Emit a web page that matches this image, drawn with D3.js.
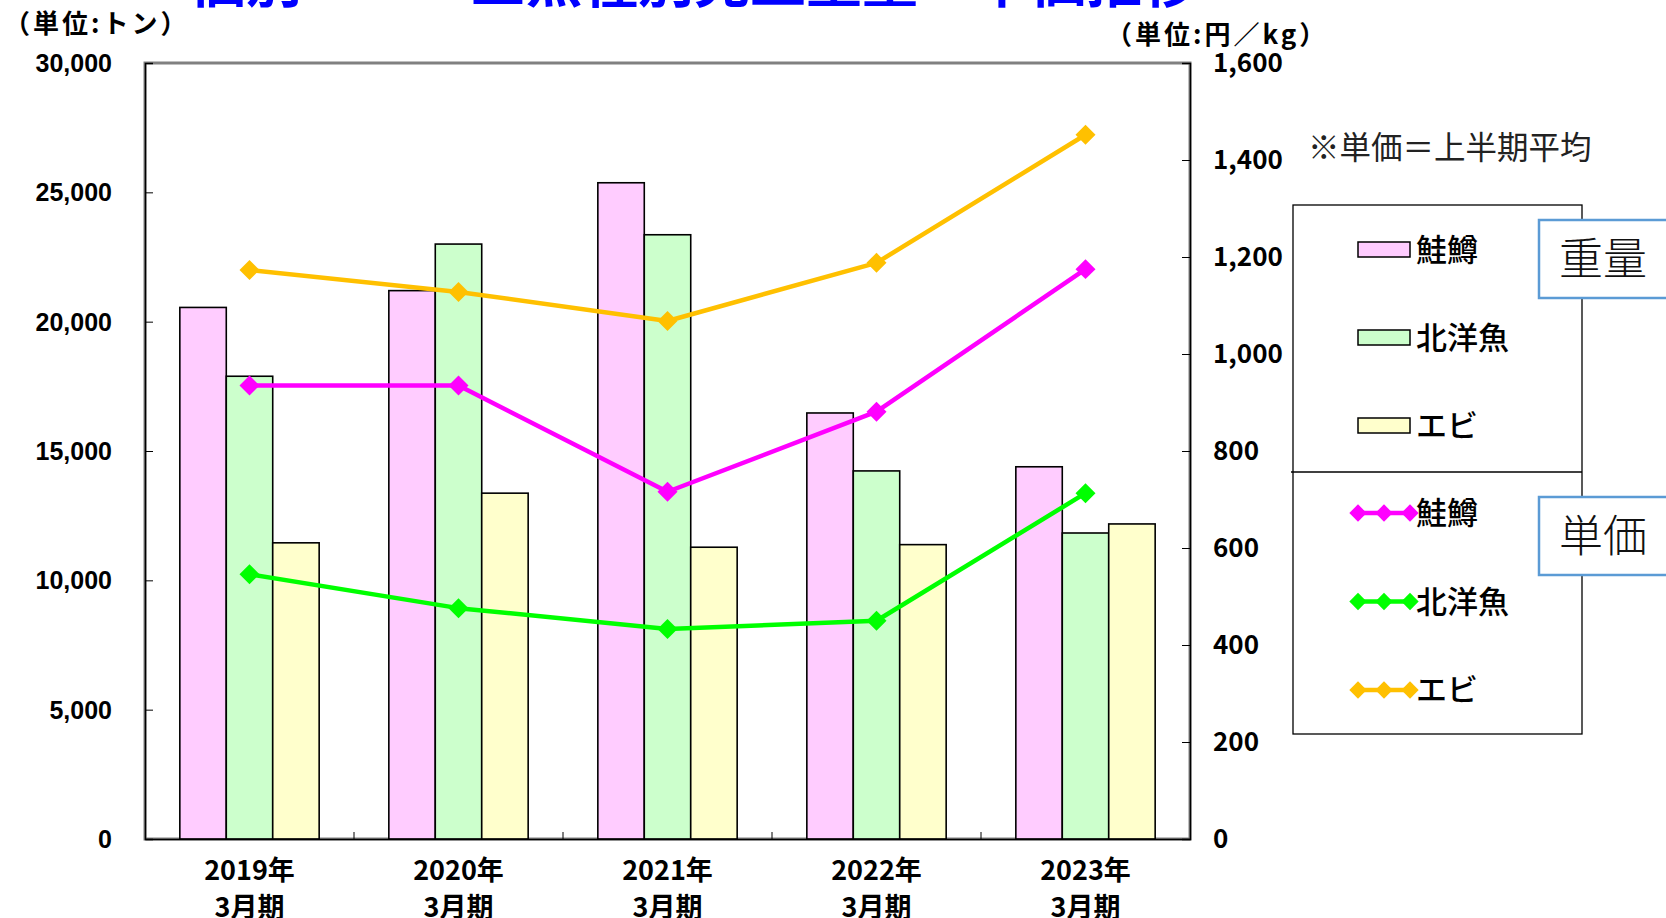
<!DOCTYPE html>
<html>
<head>
<meta charset="utf-8">
<script src="https://cdn.jsdelivr.net/npm/d3@7"></script>
<style>
  body { margin: 0; background: #fff; }
  svg { display: block; }
</style>
</head>
<body>
<svg width="1666" height="918"></svg>
<script>
// data
const years = ["2019年", "2020年", "2021年", "2022年", "2023年"]
const periodLabel = "3月期"
const species = ["鮭鱒", "北洋魚", "エビ"]
const weightSalmon = [20550, 21200, 25370, 16470, 14390]
const weightNorth = [17890, 23000, 23360, 14230, 11830]
const weightShrimp = [11450, 13370, 11280, 11380, 12180]
const priceSalmon = [935, 935, 716, 881, 1175]
const priceNorth = [546, 476, 433, 450, 713]
const priceShrimp = [1173, 1128, 1068, 1188, 1452]
const leftTicks = [0, 5000, 10000, 15000, 20000, 25000, 30000]
const rightTicks = [0, 200, 400, 600, 800, 1000, 1200, 1400, 1600]

const barColors = ["#FFCCFF", "#CCFFCC", "#FFFFCC"]
const lineColors = ["#FF00FF", "#00FF00", "#FFC000"]

let plot = {left: 145, right: 1190, top: 63, bottom: 839}

const svg = d3.select("svg")
const jp = "'Noto Sans CJK JP', 'Noto Sans', sans-serif"

// clipped title at the very top
svg.append("text")
  .attr("x", 190).attr("y", 2)
  .attr("font-family", jp).attr("font-weight", 700)
  .attr("font-size", 56).attr("fill", "#0000FF")
  .text("個別　　　三魚種別売上重量・単価推移")

const x = d3.scaleBand()
  .domain(years)
  .range([plot.left, plot.right])
  .paddingInner(0).paddingOuter(0)

const xInner = d3.scaleBand()
  .domain(species)
  .range([0, x.bandwidth()])
  .paddingOuter(0.75).paddingInner(0)

const yLeft = d3.scaleLinear().domain([0, 30000]).range([plot.bottom, plot.top])
const yRight = d3.scaleLinear().domain([0, 1600]).range([plot.bottom, plot.top])

// plot frame (Excel style grey border)
svg.append("rect")
  .attr("x", plot.left).attr("y", plot.top)
  .attr("width", plot.right - plot.left).attr("height", plot.bottom - plot.top)
  .attr("fill", "none").attr("stroke", "#808080").attr("stroke-width", 3)

// bars
const weights = [weightSalmon, weightNorth, weightShrimp]
const barRows = []
for (let i = 0; i < years.length; i++) {
  for (let j = 0; j < species.length; j++) {
    barRows.push({year: years[i], sp: species[j], value: weights[j][i], k: j})
  }
}
svg.append("g").selectAll("rect")
  .data(barRows)
  .enter().append("rect")
  .attr("x", d => x(d.year) + xInner(d.sp))
  .attr("y", d => yLeft(d.value))
  .attr("width", xInner.bandwidth())
  .attr("height", d => plot.bottom - yLeft(d.value))
  .attr("fill", d => barColors[d.k])
  .attr("stroke", "#000").attr("stroke-width", 1.6)

// axes
const leftAxis = svg.append("g")
  .attr("transform", `translate(${plot.left},0)`)
  .call(d3.axisRight(yLeft).tickValues(leftTicks).tickSize(8).tickFormat(""))
leftAxis.select(".domain").attr("stroke-width", 1.5)

const rightAxis = svg.append("g")
  .attr("transform", `translate(${plot.right},0)`)
  .call(d3.axisLeft(yRight).tickValues(rightTicks).tickSize(8).tickFormat(""))
rightAxis.select(".domain").attr("stroke-width", 1.5)

const bottomAxis = svg.append("g")
  .attr("transform", `translate(0,${plot.bottom})`)
  .call(d3.axisTop(x).tickSize(0).tickFormat(""))
bottomAxis.select(".domain").attr("stroke-width", 1.5)
bottomAxis.selectAll(".bnd")
  .data(years.slice(1))
  .enter().append("line")
  .attr("x1", d => x(d)).attr("x2", d => x(d))
  .attr("y1", 0).attr("y2", -7)
  .attr("stroke", "#000")

// tick labels
svg.append("g").selectAll("text")
  .data(leftTicks)
  .enter().append("text")
  .attr("x", 112).attr("y", d => yLeft(d))
  .attr("dy", "0.36em").attr("text-anchor", "end")
  .attr("font-family", "'Liberation Sans', Arial, sans-serif")
  .attr("font-weight", 700).attr("font-size", 25)
  .text(d => d3.format(",")(d))

svg.append("g").selectAll("text")
  .data(rightTicks)
  .enter().append("text")
  .attr("x", 1213).attr("y", d => yRight(d))
  .attr("dy", "0.36em")
  .attr("font-family", jp)
  .attr("font-weight", 700).attr("font-size", 26)
  .text(d => d3.format(",")(d))

const xl = svg.append("g").selectAll("text")
  .data(years)
  .enter().append("text")
  .attr("x", d => x(d) + x.bandwidth() / 2)
  .attr("text-anchor", "middle")
  .attr("font-family", jp)
  .attr("font-weight", 700).attr("font-size", 27)
xl.append("tspan").attr("x", d => x(d) + x.bandwidth() / 2).attr("y", 880).text(d => d)
xl.append("tspan").attr("x", d => x(d) + x.bandwidth() / 2).attr("y", 917).text(periodLabel)

// unit labels
svg.append("text")
  .attr("x", 4).attr("y", 33)
  .attr("font-family", jp).attr("font-weight", 700).attr("font-size", 26)
  .attr("letter-spacing", 3)
  .text("（単位:トン）")
svg.append("text")
  .attr("x", 1106).attr("y", 44)
  .attr("font-family", jp).attr("font-weight", 700).attr("font-size", 26)
  .attr("letter-spacing", 3)
  .text("（単位:円／kg）")

// lines
const prices = [priceSalmon, priceNorth, priceShrimp]
const cx = d => x(d) + x.bandwidth() / 2
const line = d3.line()
  .x((d, i) => cx(years[i]))
  .y(d => yRight(d))

prices.forEach(function(series, k) {
  svg.append("path")
    .datum(series)
    .attr("d", line)
    .attr("fill", "none")
    .attr("stroke", lineColors[k])
    .attr("stroke-width", 4.5)
    .attr("stroke-linejoin", "round")
  svg.append("g").selectAll("path")
    .data(series)
    .enter().append("path")
    .attr("d", d3.symbol(d3.symbolSquare, 200))
    .attr("transform", (d, i) => `translate(${cx(years[i])},${yRight(d)}) rotate(45)`)
    .attr("fill", lineColors[k])
})

// note
svg.append("text")
  .attr("x", 1308).attr("y", 159)
  .attr("font-family", jp).attr("font-weight", 400).attr("font-size", 31.5)
  .attr("fill", "#222")
  .text("※単価＝上半期平均")

// legend
const lg = svg.append("g")
lg.append("rect")
  .attr("x", 1293).attr("y", 205).attr("width", 289).attr("height", 529)
  .attr("fill", "#fff").attr("stroke", "#000").attr("stroke-width", 1.3)
lg.append("line")
  .attr("x1", 1291).attr("x2", 1582).attr("y1", 472).attr("y2", 472)
  .attr("stroke", "#000").attr("stroke-width", 1.3)

species.forEach(function(s, k) {
  const yy = 250 + k * 88
  lg.append("rect")
    .attr("x", 1358).attr("y", yy - 8).attr("width", 52).attr("height", 15)
    .attr("fill", barColors[k]).attr("stroke", "#000").attr("stroke-width", 1.5)
  lg.append("text")
    .attr("x", 1416).attr("y", yy).attr("dy", "0.36em")
    .attr("font-family", jp).attr("font-weight", 500).attr("font-size", 31)
    .text(s)

  const ly = 513 + k * 88.5
  lg.append("line")
    .attr("x1", 1352).attr("x2", 1416).attr("y1", ly).attr("y2", ly)
    .attr("stroke", lineColors[k]).attr("stroke-width", 4.5)
  lg.selectAll(".mk" + k)
    .data([1358, 1384, 1410])
    .enter().append("path")
    .attr("d", d3.symbol(d3.symbolSquare, 150))
    .attr("transform", d => `translate(${d},${ly}) rotate(45)`)
    .attr("fill", lineColors[k])
  lg.append("text")
    .attr("x", 1416).attr("y", ly).attr("dy", "0.36em")
    .attr("font-family", jp).attr("font-weight", 500).attr("font-size", 31)
    .text(s)
})

// side tags
const tags = [["重量", 220], ["単価", 497]]
tags.forEach(function(t) {
  svg.append("rect")
    .attr("x", 1539).attr("y", t[1]).attr("width", 140).attr("height", 78)
    .attr("fill", "#fff").attr("stroke", "#5B9BD5").attr("stroke-width", 2.5)
  svg.append("text")
    .attr("x", 1559).attr("y", t[1] + 39).attr("dy", "0.36em")
    .attr("font-family", jp).attr("font-weight", 300).attr("font-size", 44)
    .attr("fill", "#111")
    .text(t[0])
})
</script>
</body>
</html>
